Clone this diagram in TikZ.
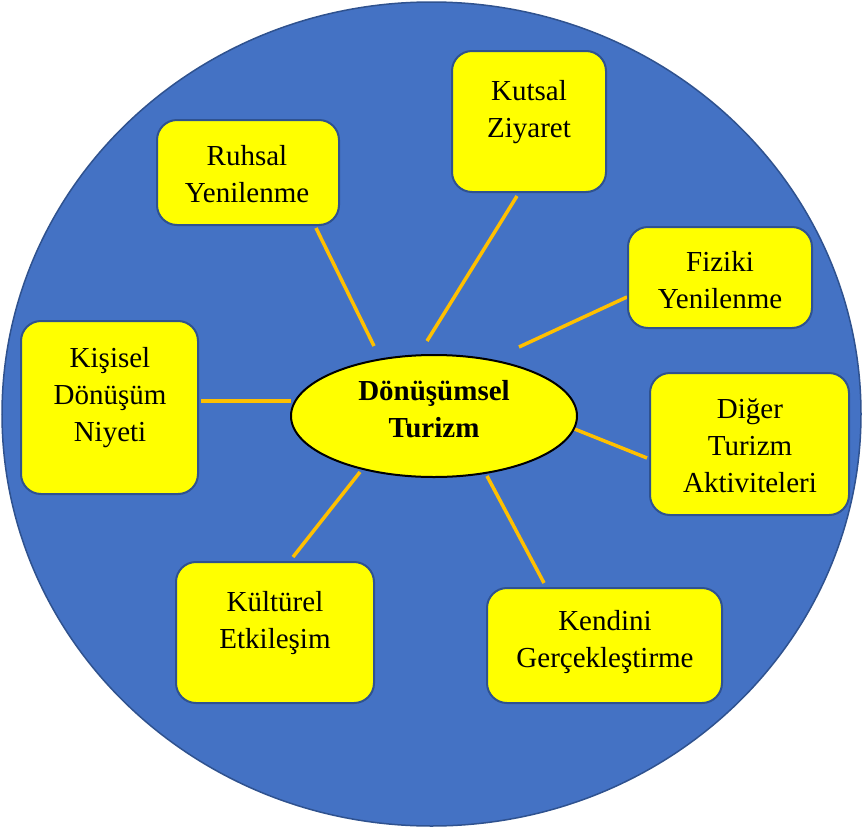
\documentclass[tikz,border=0pt]{standalone}
\usepackage{fontspec}
\setmainfont{Liberation Serif}
\usetikzlibrary{shapes.geometric}
\definecolor{bgblue}{HTML}{4472C4}
\definecolor{edgeblue}{HTML}{2F528F}
\definecolor{boxyellow}{HTML}{FFFF00}
\definecolor{linkorange}{HTML}{FFC000}
\begin{document}
\begin{tikzpicture}[x=1pt,y=-1pt,
  boxnode/.style={draw=edgeblue, line width=2pt, fill=boxyellow, rounded corners=20pt, inner sep=0pt},
  txt/.style={align=center, font=\fontsize{29}{37}\selectfont, inner sep=0pt},
  link/.style={draw=linkorange, line width=3.5pt}]
\useasboundingbox (0,0) rectangle (863,828);
% background disc
\node[draw=edgeblue, line width=1.5pt, fill=bgblue, ellipse, inner sep=0pt,
      minimum width=859pt, minimum height=824pt] (disc) at (431.5,414) {};
% connector end points
\coordinate (r1) at (374,346); \coordinate (r2) at (316,228);
\coordinate (k1) at (427,341); \coordinate (k2) at (517,196);
\coordinate (f1) at (519,347); \coordinate (f2) at (627,297);
\coordinate (p1) at (291,401); \coordinate (p2) at (201,401);
\coordinate (d1) at (572,428); \coordinate (d2) at (647,458);
\coordinate (c1) at (360,472); \coordinate (c2) at (293,557);
\coordinate (g1) at (487,476); \coordinate (g2) at (544,583);
\draw[link] (r1) -- (r2);
\draw[link] (k1) -- (k2);
\draw[link] (f1) -- (f2);
\draw[link] (p1) -- (p2);
\draw[link] (d1) -- (d2);
\draw[link] (c1) -- (c2);
\draw[link] (g1) -- (g2);
% boxes
\node[boxnode, minimum width=182pt, minimum height=105pt] (ruhsal) at (248,172.5) {};
\node[boxnode, minimum width=154pt, minimum height=141pt] (kutsal) at (529,121.5) {};
\node[boxnode, minimum width=184pt, minimum height=101pt] (fiziki) at (720,277.5) {};
\node[boxnode, minimum width=177pt, minimum height=173pt] (kisisel) at (109.5,407.5) {};
\node[boxnode, minimum width=199pt, minimum height=142pt] (diger) at (749.5,444) {};
\node[boxnode, minimum width=198pt, minimum height=141pt] (kulturel) at (275,632.5) {};
\node[boxnode, minimum width=235pt, minimum height=115pt] (kendini) at (604.5,645.5) {};
% centre
\node[draw=black, line width=2pt, fill=boxyellow, ellipse, inner sep=0pt,
      minimum width=286pt, minimum height=122pt] (centre) at (434,416) {};
% texts
\node[txt] (tcentre) at (434,409) {\textbf{Dönüşümsel}\\\textbf{Turizm}};
\node[txt] (truhsal) at (247,174) {Ruhsal\\Yenilenme};
\node[txt] (tkutsal) at (529,112) {Kutsal\\Ziyaret};
\node[txt] (tfiziki) at (720,280) {Fiziki\\Yenilenme};
\node[txt] (tkisisel) at (110,398) {Kişisel\\Dönüşüm\\Niyeti};
\node[txt] (tdiger) at (750,446) {Diğer\\Turizm\\Aktiviteleri};
\node[txt] (tkulturel) at (275,623) {Kültürel\\Etkileşim};
\node[txt] (tkendini) at (605,642) {Kendini\\Gerçekleştirme};
\end{tikzpicture}
\end{document}
